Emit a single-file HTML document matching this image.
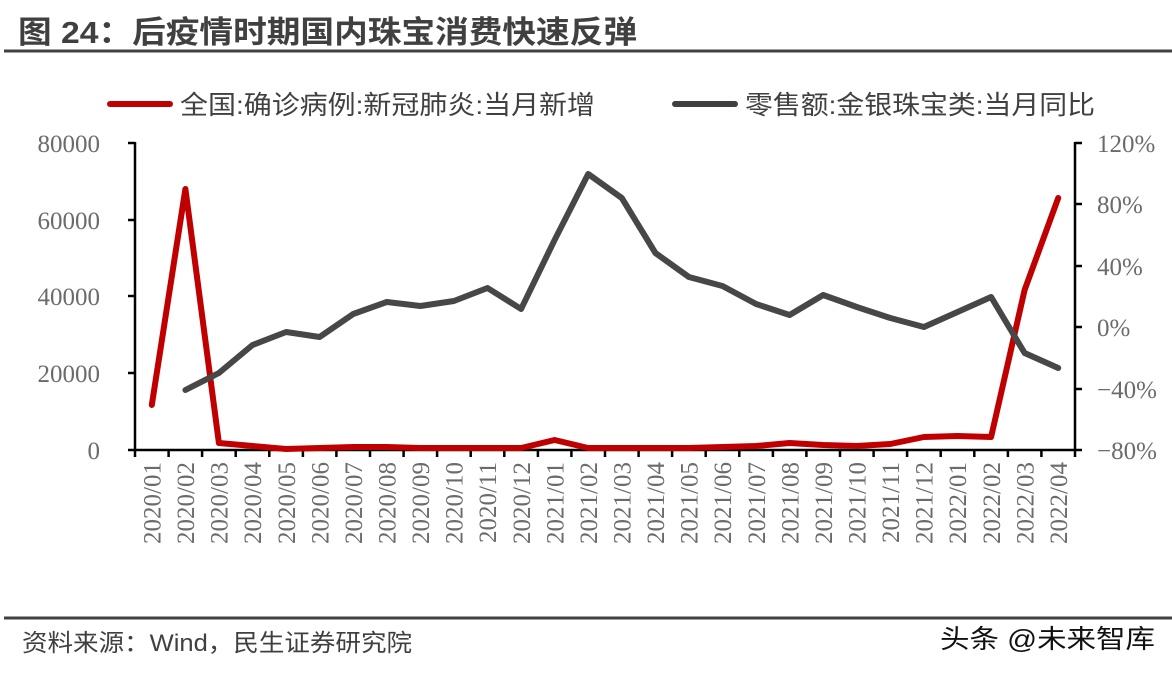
<!DOCTYPE html>
<html><head><meta charset="utf-8"><style>
html,body{margin:0;padding:0;background:#fff;}
svg{display:block;}
</style></head><body>
<svg width="1172" height="673" viewBox="0 0 1172 673" xmlns="http://www.w3.org/2000/svg">
<text x="18" y="43" font-family="Liberation Sans, Noto Sans CJK SC, sans-serif" font-size="31" font-weight="bold" fill="#404040" textLength="619" lengthAdjust="spacingAndGlyphs">图 24：后疫情时期国内珠宝消费快速反弹</text>
<rect x="4" y="49.5" width="1168" height="3" fill="#404040"/>
<rect x="4" y="616.5" width="1168" height="3" fill="#404040"/>
<text x="22" y="651" font-family="Liberation Sans, Noto Sans CJK SC, sans-serif" font-size="24" fill="#404040" textLength="390" lengthAdjust="spacingAndGlyphs">资料来源：Wind，民生证券研究院</text>
<text x="940" y="648" font-family="Liberation Sans, Noto Sans CJK SC, sans-serif" font-size="26" fill="#111" textLength="215" lengthAdjust="spacingAndGlyphs">头条 @未来智库</text>

<line x1="110" y1="104" x2="170" y2="104" stroke="#c00000" stroke-width="6" stroke-linecap="round"/>
<text x="180" y="114" font-family="Liberation Sans, Noto Sans CJK SC, sans-serif" font-size="26" fill="#404040" textLength="415" lengthAdjust="spacingAndGlyphs">全国:确诊病例:新冠肺炎:当月新增</text>
<line x1="675" y1="104" x2="735" y2="104" stroke="#404040" stroke-width="6" stroke-linecap="round"/>
<text x="745" y="114" font-family="Liberation Sans, Noto Sans CJK SC, sans-serif" font-size="26" fill="#404040" textLength="350" lengthAdjust="spacingAndGlyphs">零售额:金银珠宝类:当月同比</text>

<g stroke="#000" stroke-width="2.5" fill="none">
<line x1="135" y1="142" x2="135" y2="451"/>
<line x1="1075" y1="142" x2="1075" y2="451"/>
<line x1="128" y1="450" x2="1082" y2="450"/>
<path d="M128 143H135M128 220H135M128 296H135M128 373H135M1075 143H1082M1075 204H1082M1075 266H1082M1075 327H1082M1075 389H1082"/>
<path d="M135 450v7M168.6 450v7M202.1 450v7M235.7 450v7M269.3 450v7M302.9 450v7M336.4 450v7M370 450v7M403.6 450v7M437.1 450v7M470.7 450v7M504.3 450v7M537.9 450v7M571.4 450v7M605 450v7M638.6 450v7M672.1 450v7M705.7 450v7M739.3 450v7M772.9 450v7M806.4 450v7M840 450v7M873.6 450v7M907.1 450v7M940.7 450v7M974.3 450v7M1007.9 450v7M1041.4 450v7M1075 450v7"/>
</g>

<g font-family="Liberation Serif, serif" font-size="25" fill="#6b6b6b" text-anchor="end">
<text x="100" y="152">80000</text><text x="100" y="229">60000</text><text x="100" y="305">40000</text><text x="100" y="382">20000</text><text x="100" y="459">0</text>
</g>
<g font-family="Liberation Serif, serif" font-size="25" fill="#6b6b6b" text-anchor="start">
<text x="1097" y="152">120%</text><text x="1097" y="213">80%</text><text x="1097" y="275">40%</text><text x="1097" y="336">0%</text><text x="1097" y="398">−40%</text><text x="1097" y="459">−80%</text>
</g>
<g font-family="Liberation Serif, serif" font-size="25" fill="#6b6b6b" text-anchor="end">
<text transform="translate(160.5,462) rotate(-90)">2020/01</text>
<text transform="translate(194.1,462) rotate(-90)">2020/02</text>
<text transform="translate(227.6,462) rotate(-90)">2020/03</text>
<text transform="translate(261.2,462) rotate(-90)">2020/04</text>
<text transform="translate(294.8,462) rotate(-90)">2020/05</text>
<text transform="translate(328.3,462) rotate(-90)">2020/06</text>
<text transform="translate(361.9,462) rotate(-90)">2020/07</text>
<text transform="translate(395.5,462) rotate(-90)">2020/08</text>
<text transform="translate(429.1,462) rotate(-90)">2020/09</text>
<text transform="translate(462.6,462) rotate(-90)">2020/10</text>
<text transform="translate(496.2,462) rotate(-90)">2020/11</text>
<text transform="translate(529.8,462) rotate(-90)">2020/12</text>
<text transform="translate(563.3,462) rotate(-90)">2021/01</text>
<text transform="translate(596.9,462) rotate(-90)">2021/02</text>
<text transform="translate(630.5,462) rotate(-90)">2021/03</text>
<text transform="translate(664.1,462) rotate(-90)">2021/04</text>
<text transform="translate(697.6,462) rotate(-90)">2021/05</text>
<text transform="translate(731.2,462) rotate(-90)">2021/06</text>
<text transform="translate(764.8,462) rotate(-90)">2021/07</text>
<text transform="translate(798.3,462) rotate(-90)">2021/08</text>
<text transform="translate(831.9,462) rotate(-90)">2021/09</text>
<text transform="translate(865.5,462) rotate(-90)">2021/10</text>
<text transform="translate(899,462) rotate(-90)">2021/11</text>
<text transform="translate(932.6,462) rotate(-90)">2021/12</text>
<text transform="translate(966.2,462) rotate(-90)">2022/01</text>
<text transform="translate(999.8,462) rotate(-90)">2022/02</text>
<text transform="translate(1033.3,462) rotate(-90)">2022/03</text>
<text transform="translate(1066.9,462) rotate(-90)">2022/04</text>
</g>

<polyline fill="none" stroke="#c00000" stroke-width="6" stroke-linejoin="round" stroke-linecap="round"
points="151.8,405 185.4,189 218.9,443 252.5,446 286.1,449 319.6,448 353.2,447 386.8,447 420.4,448 453.9,448 487.5,448 521.1,448 554.6,440 588.2,448 621.8,448 655.4,448 688.9,448 722.5,447 756.1,446 789.6,443 823.2,445 856.8,446 890.3,444 923.9,437 957.5,436 991.1,437 1024.6,290 1058.2,198"/>
<polyline fill="none" stroke="#474747" stroke-width="6" stroke-linejoin="round" stroke-linecap="round"
points="185.4,390 218.9,373 252.5,345 286.1,332 319.6,337 353.2,314 386.8,302 420.4,306 453.9,301 487.5,288 521.1,309 554.6,240 588.2,174 621.8,198 655.4,253 688.9,277 722.5,286 756.1,304 789.6,315 823.2,295 856.8,307 890.3,318 923.9,327 957.5,312 991.1,297 1024.6,353 1058.2,368"/>
</svg>
</body></html>
